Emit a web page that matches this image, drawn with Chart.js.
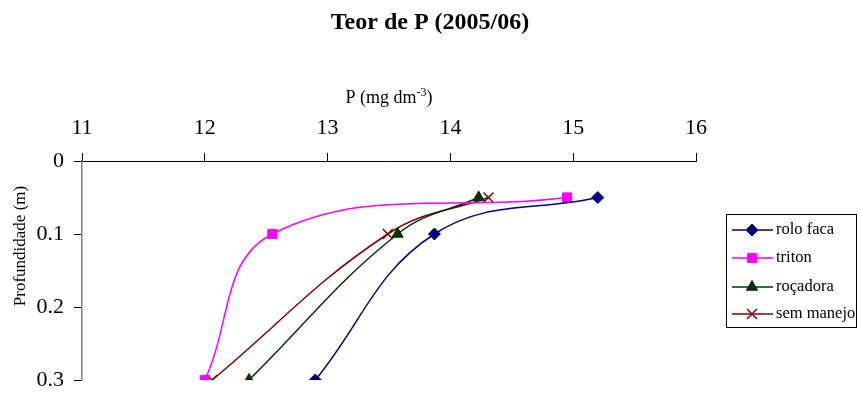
<!DOCTYPE html>
<html>
<head>
<meta charset="utf-8">
<script src="https://cdn.jsdelivr.net/npm/chart.js@4"></script>
<style>
  html, body { margin: 0; padding: 0; background: #fff; }
  #wrap { width: 861px; height: 395px; }
</style>
</head>
<body>
<div id="wrap"><canvas id="c" width="861" height="395"></canvas></div>
<script>
// ---- data ----
const title = 'Teor de P (2005/06)';
const xTitleMain = 'P (mg dm';
const xTitleSup = '-3';
const xTitleEnd = ')';
const yTitle = 'Profundidade (m)';
const depths = [0.05, 0.1, 0.3];
const seriesNames = ['rolo faca', 'triton', 'roçadora', 'sem manejo'];
const roloFaca = [15.2, 13.87, 12.9];
const triton = [14.95, 12.55, 12.0];
const rocadora = [14.23, 13.57, 12.36];
const semManejo = [14.31, 13.49, 12.06];
const xTicks = [11, 12, 13, 14, 15, 16];
const yTicks = ['0', '0.1', '0.2', '0.3'];

const SERIF = '"Liberation Serif", "Times New Roman", serif';

function pts(vals) { return vals.map((v, i) => ({ x: v, y: depths[i] })); }

const styles = [
  { color: '#000080', pointStyle: 'rectRot', radius: 6 },
  { color: '#FF00FF', pointStyle: 'rect', radius: 6.5 },
  { color: '#003300', pointStyle: 'triangle', radius: 6.5 },
  { color: '#800000', pointStyle: 'crossRot', radius: 7 }
];
const allVals = [roloFaca, triton, rocadora, semManejo];

const datasets = allVals.map((vals, i) => ({
  label: seriesNames[i],
  data: pts(vals),
  showLine: true,
  borderColor: styles[i].color,
  backgroundColor: styles[i].color,
  borderWidth: 1.5,
  tension: 0.4,
  pointStyle: styles[i].pointStyle,
  pointRadius: styles[i].radius,
  pointHoverRadius: styles[i].radius,
  pointBorderColor: styles[i].color,
  pointBackgroundColor: styles[i].color,
  pointBorderWidth: styles[i].pointStyle === 'crossRot' ? 1.5 : 1
}));

const overlay = {
  id: 'overlay',
  afterDraw(chart) {
    const ctx = chart.ctx;
    const ca = chart.chartArea;
    ctx.save();
    // chart title
    ctx.fillStyle = '#000';
    ctx.font = 'bold 24px ' + SERIF;
    ctx.textAlign = 'center';
    ctx.textBaseline = 'alphabetic';
    ctx.fillText(title, 430, 29);

    // x axis title with superscript
    const mainFont = '18px ' + SERIF;
    const supFont = '12px ' + SERIF;
    ctx.font = mainFont; const w1 = ctx.measureText(xTitleMain).width; const w3 = ctx.measureText(xTitleEnd).width;
    ctx.font = supFont; const w2 = ctx.measureText(xTitleSup).width;
    const total = w1 + w2 + w3;
    let x = (ca.left + ca.right) / 2 - total / 2;
    const base = 103;
    ctx.textAlign = 'left';
    ctx.font = mainFont; ctx.fillText(xTitleMain, x, base); x += w1;
    ctx.font = supFont; ctx.fillText(xTitleSup, x, base - 7); x += w2;
    ctx.font = mainFont; ctx.fillText(xTitleEnd, x, base);

    // y axis title
    ctx.save();
    ctx.translate(21, 246);
    ctx.rotate(-Math.PI / 2);
    ctx.font = '17px ' + SERIF;
    ctx.textAlign = 'center';
    ctx.textBaseline = 'middle';
    ctx.fillText(yTitle, 0, 0);
    ctx.restore();

    // legend
    const lx = 726.5, ly = 214.5, lw = 130, lh = 113;
    ctx.fillStyle = '#fff';
    ctx.fillRect(lx, ly, lw, lh);
    ctx.strokeStyle = '#000';
    ctx.lineWidth = 1;
    ctx.strokeRect(lx, ly, lw, lh);
    const rowY = [230, 258, 287, 314];
    chart.data.datasets.forEach((ds, i) => {
      const y = rowY[i];
      ctx.strokeStyle = ds.borderColor;
      ctx.lineWidth = 1.5;
      ctx.beginPath(); ctx.moveTo(732, y); ctx.lineTo(773, y); ctx.stroke();
      ctx.fillStyle = ds.pointBackgroundColor;
      ctx.strokeStyle = ds.pointBorderColor;
      ctx.lineWidth = ds.pointBorderWidth;
      Chart.helpers.drawPoint(ctx, { pointStyle: ds.pointStyle, radius: ds.pointRadius, rotation: 0, borderWidth: ds.pointBorderWidth }, 752, y);
      ctx.fillStyle = '#000';
      ctx.font = '16.5px ' + SERIF;
      ctx.textAlign = 'left';
      ctx.textBaseline = 'middle';
      ctx.fillText(ds.label, 776, y);
    });
    ctx.restore();
  }
};

new Chart(document.getElementById('c'), {
  type: 'scatter',
  data: { datasets },
  options: {
    responsive: false,
    animation: false,
    events: [],
    layout: { padding: { left: 0, top: 0, right: 165, bottom: 15 } },
    plugins: {
      legend: { display: false },
      tooltip: { enabled: false },
      title: { display: false }
    },
    scales: {
      x: {
        type: 'linear',
        position: 'top',
        min: 11, max: 16,
        afterBuildTicks(scale) { scale.ticks = xTicks.map(v => ({ value: v })); },
        afterFit(scale) { scale.height = 161; scale.paddingLeft = 0; scale.paddingRight = 0; },
        ticks: {
          color: '#000',
          font: { family: SERIF, size: 22 },
          padding: 12,
          maxRotation: 0,
          callback: v => String(v)
        },
        grid: { drawOnChartArea: false, drawTicks: true, tickLength: 8, color: '#000', lineWidth: 1 },
        border: { display: true, color: '#000', width: 1 },
        title: { display: false }
      },
      y: {
        type: 'linear',
        reverse: true,
        min: 0, max: 0.3,
        afterBuildTicks(scale) { scale.ticks = yTicks.map(v => ({ value: parseFloat(v) })); },
        afterFit(scale) { scale.width = 82; scale.paddingTop = 0; scale.paddingBottom = 0; },
        ticks: {
          color: '#000',
          font: { family: SERIF, size: 22 },
          padding: 10,
          callback: (v, i) => yTicks[i]
        },
        grid: { drawOnChartArea: false, drawTicks: true, tickLength: 8, color: '#000', lineWidth: 1 },
        border: { display: true, color: '#808080', width: 1.5 },
        title: { display: false }
      }
    }
  },
  plugins: [overlay]
});
</script>
</body>
</html>
